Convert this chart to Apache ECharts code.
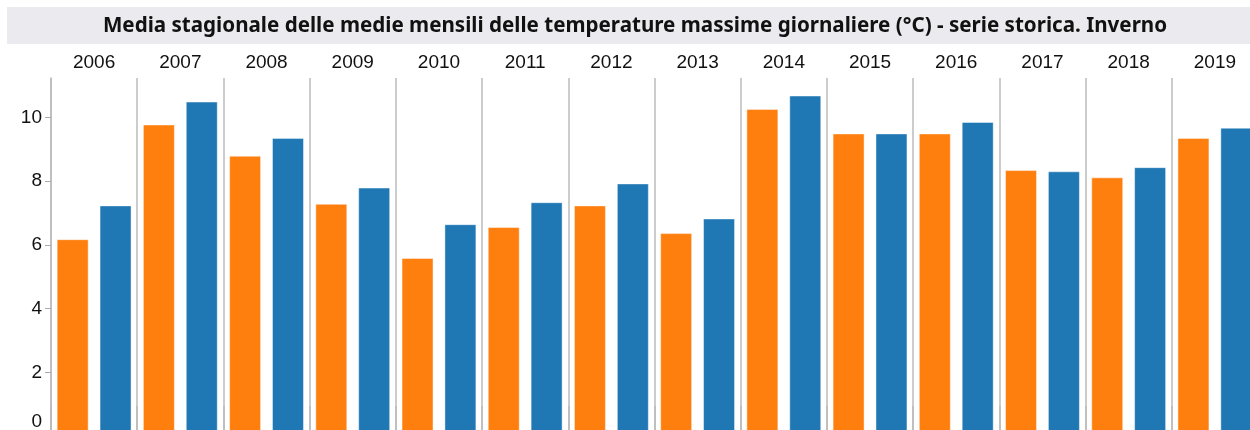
<!DOCTYPE html>
<html>
<head>
<meta charset="utf-8">
<script src="https://cdn.jsdelivr.net/npm/echarts@6/dist/echarts.min.js"></script>
<style>
  html, body { margin: 0; padding: 0; background: #fff; }
  #chart { width: 1250px; height: 430px; }
</style>
</head>
<body>
<div id="chart"></div>
<script>
// anni (un pannello per anno)
var years = ['2006', '2007', '2008', '2009', '2010', '2011', '2012', '2013', '2014', '2015', '2016', '2017', '2018', '2019'];
// serie arancione e blu (°C)
var orangeValues = [6.18, 9.78, 8.80, 7.29, 5.59, 6.56, 7.24, 6.37, 10.27, 9.50, 9.50, 8.35, 8.12, 9.36];
var blueValues = [7.24, 10.50, 9.36, 7.80, 6.65, 7.34, 7.93, 6.83, 10.69, 9.50, 9.86, 8.31, 8.44, 9.68];
var yTicks = [0, 2, 4, 6, 8, 10];

var titleText = 'Media stagionale delle medie mensili delle temperature massime giornaliere (°C) - serie storica. Inverno';

var myChart = echarts.init(document.getElementById('chart'));
myChart.setOption({
  animation: false,
  textStyle: { fontFamily: 'Liberation Sans, Arial, sans-serif' },
  title: {
    text: titleText,
    left: 630,
    top: 11,
    textAlign: 'center',
    textStyle: {
      fontFamily: 'Noto Sans',
      fontWeight: 'bold',
      fontSize: 20.6,
      color: '#111'
    }
  },
  graphic: [
    {
      type: 'rect',
      z: -1,
      shape: { x: 7, y: 7, width: 1250, height: 37 },
      style: { fill: '#ebebef' }
    }
  ],
  grid: {
    left: 51,
    top: 78,
    width: 1207,
    height: 358,
    outerBoundsMode: 'none'
  },
  xAxis: {
    type: 'category',
    position: 'top',
    data: years,
    axisLine: { show: true, lineStyle: { color: '#dddddd', width: 1 } },
    axisTick: {
      show: true,
      interval: 0,
      length: 30,
      alignWithLabel: false,
      lineStyle: { color: '#bbbbbb', width: 1.5 }
    },
    axisLabel: {
      interval: 0,
      margin: 6,
      fontSize: 19,
      color: '#111'
    },
    splitLine: {
      show: true,
      interval: 0,
      lineStyle: { color: '#bbbbbb', width: 1.5 }
    }
  },
  yAxis: {
    type: 'value',
    min: 0,
    max: 11.24,
    interval: 2,
    axisLine: { show: true, lineStyle: { color: '#bbbbbb', width: 1.5 } },
    axisTick: {
      show: true,
      length: 6,
      customValues: yTicks,
      lineStyle: { color: '#aaaaaa' }
    },
    axisLabel: {
      customValues: yTicks,
      margin: 9,
      fontSize: 19,
      color: '#111',
      // l'etichetta dello zero è spinta in alto dentro il riquadro
      formatter: function (v) {
        return v === 0 ? '{flush|0}' : String(v);
      },
      rich: {
        flush: { fontSize: 19, color: '#111', padding: [0, 0, 28, 0] }
      }
    },
    splitLine: { show: false }
  },
  series: [
    {
      name: 'orange',
      type: 'bar',
      data: orangeValues,
      barWidth: 32,
      barGap: '34%',
      itemStyle: {
        color: '#ff7f0e',
        borderColor: 'rgba(255,255,255,0.45)',
        borderWidth: 1
      }
    },
    {
      name: 'blue',
      type: 'bar',
      data: blueValues,
      barWidth: 32,
      barGap: '34%',
      itemStyle: {
        color: '#1f77b4',
        borderColor: 'rgba(255,255,255,0.45)',
        borderWidth: 1
      }
    }
  ]
});
</script>
</body>
</html>
